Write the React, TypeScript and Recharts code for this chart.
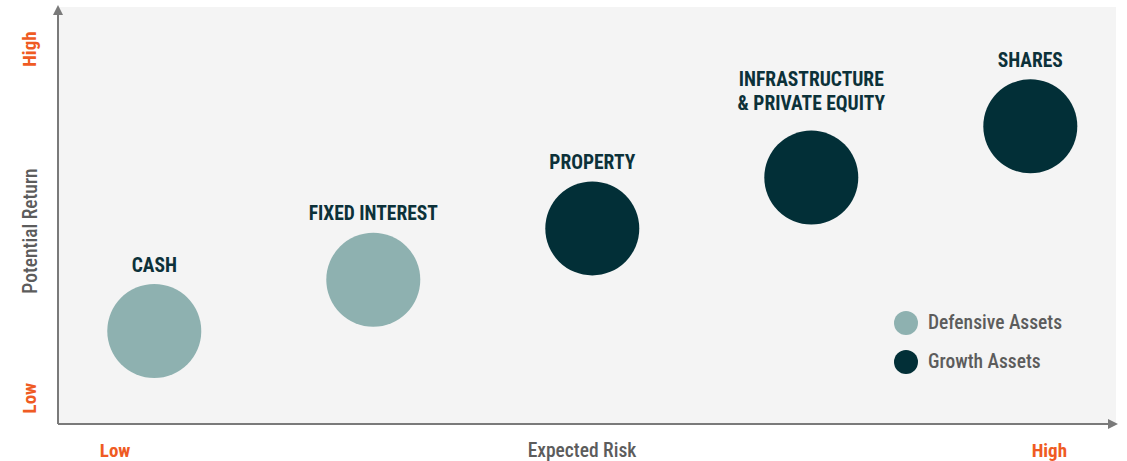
import React from 'react';
import {
  ScatterChart,
  Scatter,
  XAxis,
  YAxis,
  CartesianGrid,
  Legend,
} from 'recharts';

document.body.style.margin = '0';

const FONT = "'Liberation Sans Narrow', 'Roboto Condensed', Roboto, sans-serif";
const ORANGE = '#ef5b23';
const GREY_TEXT = '#5c5c5c';
const DEFENSIVE = '#8eb1b0';
const GROWTH = '#022f37';

// asset classes, risk (x) and return (y) on a 0-10 scale
const defensiveNames = ['CASH', 'FIXED INTEREST'];
const defensiveRisk = [0.91, 2.98];
const defensiveReturn = [2.23, 3.46];

const growthNames = ['PROPERTY', 'INFRASTRUCTURE\n& PRIVATE EQUITY', 'SHARES'];
const growthRisk = [5.05, 7.12, 9.19];
const growthReturn = [4.69, 5.91, 7.14];

const xTicks = [0.54, 9.37];
const xTickLabels = ['Low', 'High'];
const yTicks = [0.62, 8.99];
const yTickLabels = ['Low', 'High'];

const legendItems = [
  { name: 'Defensive Assets', color: DEFENSIVE },
  { name: 'Growth Assets', color: GROWTH },
];

const toPoints = (names: string[], xs: number[], ys: number[]) =>
  names.map((name, i) => ({ name, risk: xs[i], ret: ys[i] }));

const defensiveData = toPoints(defensiveNames, defensiveRisk, defensiveReturn);
const growthData = toPoints(growthNames, growthRisk, growthReturn);

const bubble = (color: string) => (props: any) => {
  const { cx, cy, payload } = props;
  const lines: string[] = payload.name.split('\n');
  const extra = (lines.length - 1) * 8;
  return (
    <g>
      <circle cx={cx} cy={cy} r={47} fill={color} />
      {lines.map((line, i) => (
        <text
          key={i}
          x={cx}
          y={cy - 66 - extra - (lines.length - 1 - i) * 24}
          textAnchor="middle"
          dominantBaseline="central"
          fontFamily={FONT}
          fontWeight={700}
          fontSize={19.5}
          fill="#0c3139"
        >
          {line}
        </text>
      ))}
    </g>
  );
};

const XTick = (props: any) => {
  const { x, index } = props;
  return (
    <text
      x={x}
      y={450}
      textAnchor="middle"
      dominantBaseline="central"
      fontFamily={FONT}
      fontWeight={700}
      fontSize={19}
      fill={ORANGE}
    >
      {xTickLabels[index]}
    </text>
  );
};

const YTick = (props: any) => {
  const { y, index } = props;
  return (
    <text
      x={30}
      y={y}
      transform={`rotate(-90, 30, ${y})`}
      textAnchor="middle"
      dominantBaseline="central"
      fontFamily={FONT}
      fontWeight={700}
      fontSize={19}
      fill={ORANGE}
    >
      {yTickLabels[index]}
    </text>
  );
};

const LegendBox = () => (
  <div style={{ fontFamily: FONT }}>
    {legendItems.map((item) => (
      <div
        key={item.name}
        style={{ display: 'flex', alignItems: 'center', height: 39 }}
      >
        <span
          style={{
            width: 24,
            height: 24,
            borderRadius: '50%',
            background: item.color,
            marginRight: 10,
          }}
        />
        <span style={{ fontSize: 19.5, fontWeight: 500, color: GREY_TEXT }}>
          {item.name}
        </span>
      </div>
    ))}
  </div>
);

export default function App() {
  return (
    <ScatterChart
      width={1127}
      height={461}
      margin={{ top: 7, right: 11, left: 0, bottom: 0 }}
    >
      <defs>
        <marker
          id="arrow"
          viewBox="0 0 10 10"
          refX="8"
          refY="5"
          markerWidth="5"
          markerHeight="5"
          orient="auto-start-reverse"
        >
          <path d="M0,0 L10,5 L0,10 z" fill="#7a7a7a" />
        </marker>
      </defs>
      <CartesianGrid fill="#f4f4f4" horizontal={false} vertical={false} />
      <XAxis
        type="number"
        dataKey="risk"
        domain={[0, 10]}
        ticks={xTicks}
        tick={XTick}
        tickLine={false}
        height={37}
        axisLine={{ stroke: '#7a7a7a', strokeWidth: 2, markerEnd: 'url(#arrow)' } as any}
        label={{
          value: 'Expected Risk',
          content: () => (
            <text
              x={582}
              y={450}
              textAnchor="middle"
              dominantBaseline="central"
              fontFamily={FONT}
              fontWeight={500}
              fontSize={19.5}
              fill={GREY_TEXT}
            >
              Expected Risk
            </text>
          ),
        }}
      />
      <YAxis
        type="number"
        dataKey="ret"
        domain={[0, 10]}
        ticks={yTicks}
        tick={YTick}
        tickLine={false}
        width={58}
        axisLine={{ stroke: '#7a7a7a', strokeWidth: 2, markerStart: 'url(#arrow)' } as any}
        label={{
          value: 'Potential Return',
          content: () => (
            <text
              x={30}
              y={231}
              transform="rotate(-90, 30, 231)"
              textAnchor="middle"
              dominantBaseline="central"
              fontFamily={FONT}
              fontWeight={500}
              fontSize={19.5}
              fill={GREY_TEXT}
            >
              Potential Return
            </text>
          ),
        }}
      />
      <Legend
        layout="vertical"
        align="center"
        verticalAlign="middle"
        content={LegendBox}
        wrapperStyle={{ left: 894, top: 303, width: 220 }}
      />
      <Scatter
        name="Defensive Assets"
        data={defensiveData}
        fill={DEFENSIVE}
        shape={bubble(DEFENSIVE)}
        isAnimationActive={false}
      />
      <Scatter
        name="Growth Assets"
        data={growthData}
        fill={GROWTH}
        shape={bubble(GROWTH)}
        isAnimationActive={false}
      />
    </ScatterChart>
  );
}
